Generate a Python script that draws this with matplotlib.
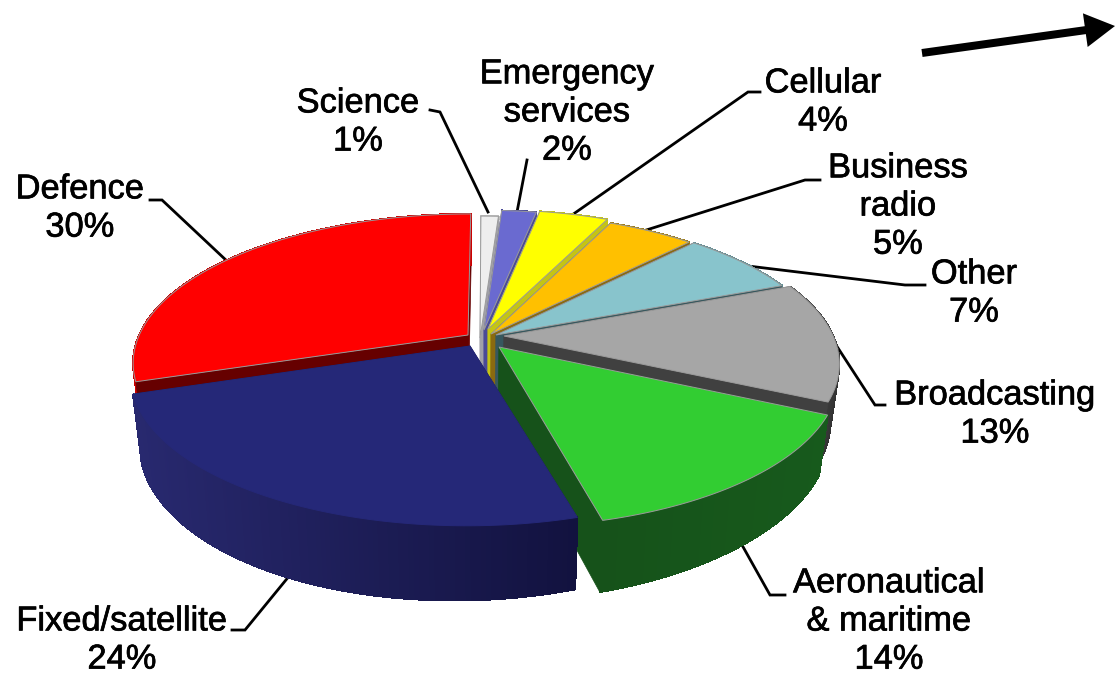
import numpy as np
import matplotlib
matplotlib.use('Agg')
import matplotlib.pyplot as plt
import matplotlib.patheffects as pe
from matplotlib.colors import to_rgb

plt.rcParams['font.family'] = ['Liberation Sans', 'DejaVu Sans']

# shares in percent, clockwise from 12 o'clock
names = ['Science', 'Emergency\nservices', 'Cellular', 'Business\nradio', 'Other',
         'Broadcasting', 'Aeronautical\n& maritime', 'Fixed/satellite', 'Defence']
shares = [1, 2, 4, 5, 7, 13, 14, 24, 30]

top_colors = ['#eeeeee', '#6a6ad0', '#ffff00', '#ffc000', '#88c4cc',
              '#a6a6a6', '#32cd32', '#252878', '#ff0000']
cut_colors = ['#a0a0a8', '#4a4a98', '#c4c414', '#8a6a10', '#37585e',
              '#404040', '#16521a', '#14133f', '#660000']
wall_left = ['#c0c0c0', '#4a4a98', '#c4c414', '#a07c10', '#5f8f96',
             '#5a5a5a', '#16521a', '#28296f', '#cc0000']
wall_right = ['#c0c0c0', '#4a4a98', '#c4c414', '#a07c10', '#5f8f96',
              '#303030', '#175a1c', '#12123f', '#cc0000']

# where each slice's tip ends up after the explode, in pixels
tip_x = [480, 484, 488, 491, 496, 504, 499, 470, 468]
tip_y = [338, 330, 329, 334, 335, 336, 347, 346, 335]
draw_order = [8, 0, 1, 2, 3, 4, 5, 6, 7]

# projection of the tilted disc
cx, cy = 486, 338
A, B, p = 330, 144, 0.181
blue_start_nudge = -1.5  # the tilted 3d view skews this one edge a little


def project(X, Y):
    w = 1 + p * Y
    return cx + A * X / w, cy - B * Y / w


def unproject(px, py):
    v = cy - py
    Y = v / (B - p * v)
    return (px - cx) * (1 + p * Y) / A, Y


def drop(px, py, Y):
    w = 1 + p * Y
    return cx + (px - cx) * 0.975, py + (60 - 0.015 * (px - cx)) / w


fig = plt.figure(figsize=(11.15, 6.76), dpi=100)
ax = fig.add_axes([0, 0, 1, 1])
ax.set_xlim(0, 1115)
ax.set_ylim(676, 0)
ax.axis('off')

# leader lines go under the pie
leader_lines = [
    ([430, 440, 488], [110, 112, 212]),
    ([527, 517], [160, 212]),
    ([760, 748, 572], [92, 92, 215]),
    ([820, 805, 640], [180, 180, 232]),
    ([925, 905, 715], [285, 285, 262]),
    ([885, 875, 825], [405, 405, 328]),
    ([785, 770, 742], [595, 595, 545]),
    ([232, 245, 290], [630, 630, 575]),
    ([150, 162, 228], [200, 200, 262]),
]
for xs, ys in leader_lines:
    ax.plot(xs, ys, color='black', lw=2, solid_joinstyle='miter', zorder=1)

edges = np.cumsum([0] + shares) * 3.6
z = 2
for i in draw_order:
    start = edges[i] + (blue_start_nudge if i == 7 else 0)
    t = np.radians(np.linspace(start, edges[i + 1], max(8, shares[i] * 5)))
    X0, Y0 = unproject(tip_x[i], tip_y[i])
    X = X0 + np.sin(t)
    Y = Y0 + np.cos(t)
    px, py = project(X, Y)
    bx, by = drop(px, py, Y)
    tx, ty = project(X0, Y0)
    dx, dy = drop(tx, ty, Y0)

    def cut_face(k):
        ax.fill([tx, px[k], bx[k], dx], [ty, py[k], by[k], dy],
                color=cut_colors[i], lw=0.5, zorder=z)

    # faces turned away from the viewer first, the outer wall, then the rest
    start_seen = np.sin(t[0]) < -1e-6
    end_seen = np.sin(t[-1]) > 1e-6
    if not start_seen:
        cut_face(0)
    if not end_seen:
        cut_face(-1)
    z += 1

    c0, c1 = np.array(to_rgb(wall_left[i])), np.array(to_rgb(wall_right[i]))
    span = max(px.max() - px.min(), 1)
    for k in range(len(t) - 1):
        f = (0.5 * (px[k] + px[k + 1]) - px.min()) / span
        col = c0 + (c1 - c0) * f
        ax.fill([px[k], px[k + 1], bx[k + 1], bx[k]], [py[k], py[k + 1], by[k + 1], by[k]],
                color=col, lw=0.8, antialiased=False, zorder=z)
    z += 1

    if start_seen:
        cut_face(0)
    if end_seen:
        cut_face(-1)
    z += 1

    ax.fill(np.r_[tx, px], np.r_[ty, py], facecolor=top_colors[i],
            edgecolor='#9a9a9a' if i != 7 else top_colors[i], lw=0.7, zorder=z)
    z += 1

# labels, one per slice in the same order as names
label_x = [358, 567, 823, 898, 974, 995, 889, 122, 80]
label_y = [123, 113, 103, 207, 294, 415, 622, 641, 209]
for name, share, x, y in zip(names, shares, label_x, label_y):
    ax.text(x, y, f'{name}\n{share}%', ha='center', va='center', fontsize=24.8,
            linespacing=1.3, color='black', zorder=500,
            path_effects=[pe.withStroke(linewidth=0.5, foreground='black')])

ax.arrow(922, 53, 193, -27, width=8, head_width=34, head_length=30,
         length_includes_head=True, color='black', lw=0, zorder=500)

fig.savefig('out.png', dpi=100)
